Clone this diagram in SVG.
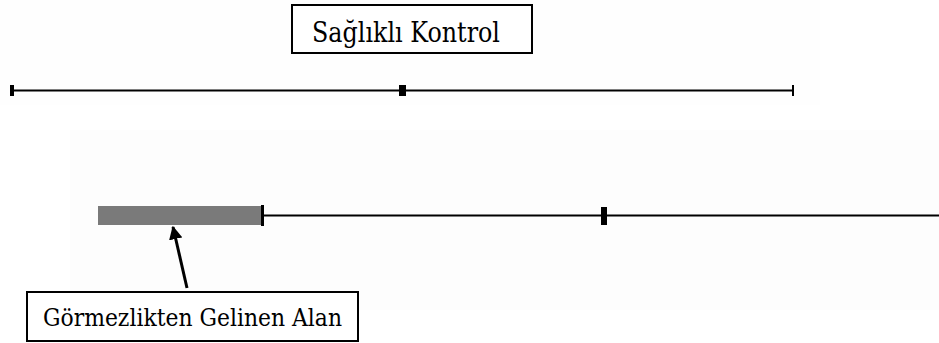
<svg xmlns="http://www.w3.org/2000/svg" width="939" height="343" viewBox="0 0 939 343">
  <defs>
    <style>
      .box { fill: #ffffff; stroke: #000000; stroke-width: 2; }
      .label { font-family: 'DejaVu Serif', serif; fill: #000000; }
      .axis { stroke: #000000; stroke-width: 2; fill: none; }
      .tick { fill: #000000; }
    </style>
    <marker id="arrowHead" viewBox="0 0 10 10" refX="9" refY="5" markerWidth="4.5" markerHeight="4.5" orient="auto" markerUnits="strokeWidth">
      <path d="M0,0 L10,5 L0,10 Z" fill="#000000"/>
    </marker>
  </defs>

  <rect x="0" y="0" width="939" height="343" fill="#ffffff"/>
  <!-- faint backing panels -->
  <rect x="0" y="0" width="820" height="105" fill="#fefefe"/>
  <rect x="70" y="130" width="869" height="180" fill="#fdfdfd"/>

  <!-- upper scale: healthy control -->
  <g id="scale-control">
    <line class="axis" x1="12" y1="90.5" x2="793" y2="90.5"/>
    <rect class="tick" x="10" y="85" width="4" height="11"/>
    <rect class="tick" x="399" y="85" width="7" height="11"/>
    <rect class="tick" x="792" y="85" width="2" height="11"/>
  </g>

  <g id="label-control">
    <rect class="box" x="292" y="5" width="240" height="48"/>
    <text class="label" x="312" y="42" font-size="27" textLength="188" lengthAdjust="spacingAndGlyphs">Sağlıklı Kontrol</text>
  </g>

  <!-- lower scale with neglected region -->
  <g id="scale-neglect">
    <rect x="98" y="206" width="165" height="19" fill="#7a7a7a"/>
    <line class="axis" x1="263" y1="215.5" x2="939" y2="215.5" stroke-width="2.5"/>
    <rect class="tick" x="261" y="205" width="3" height="21"/>
    <rect class="tick" x="601" y="207" width="6" height="18"/>
  </g>

  <g id="label-neglect">
    <rect class="box" x="27" y="292" width="331" height="49"/>
    <text class="label" x="43" y="326" font-size="25" textLength="299" lengthAdjust="spacingAndGlyphs">Görmezlikten Gelinen Alan</text>
  </g>

  <g id="connectors">
    <line x1="187" y1="288" x2="173" y2="227" stroke="#000000" stroke-width="3" marker-end="url(#arrowHead)"/>
  </g>
</svg>
